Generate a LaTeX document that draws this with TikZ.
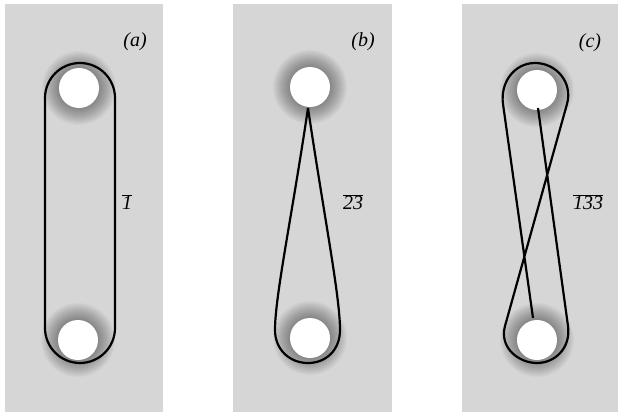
\documentclass[tikz,border=0pt]{standalone}
\usepackage{fontspec}
\setmainfont{Liberation Serif}
\usetikzlibrary{positioning}
\definecolor{panelGris}{gray}{0.84}

\begin{document}
\begin{tikzpicture}[x=1pt, y=1pt,
        panel/.style={fill=panelGris, draw=none},
        hole/.style={fill=white, draw=none},
        loopline/.style={line width=2.2pt, line join=round, draw=black},
        tag/.style={font=\fontsize{20}{22}\selectfont\itshape, inner sep=0pt},
        barlbl/.style={font=\fontsize{20}{22}\selectfont\itshape, inner sep=0pt}
    ]
        \useasboundingbox (0,0) rectangle (618,416);

        % --- PANELES ---
        \fill[panel] (5,4) rectangle (163,412);
        \fill[panel] (233,4) rectangle (392,412);
        \fill[panel] (462,4) rectangle (618,412);

        % Agujeros
        \coordinate (aTop) at (79,328);
        \coordinate (aBot) at (78,76);
        \coordinate (bTop) at (310,329);
        \coordinate (bBot) at (310,78);
        \coordinate (cTop) at (537,326);
        \coordinate (cBot) at (537,76);
        \foreach \c in {aTop,aBot,bTop,bBot,cTop,cBot}{
            \foreach \r in {37,36,...,21} \fill[black, opacity=0.025] (\c) circle (\r);
            \fill[hole] (\c) circle (20);
        }

        % Etiquetas
        \node[tag] (tagA) at (135,374) {(a)};
        \node[tag] (tagB) at (363,374) {(b)};
        \node[tag] (tagC) at (590,373) {(c)};

        % --- LAZOS ---
        % (a)
        \draw[loopline, rounded corners=35pt] (45,53) rectangle (115,353);
        \node[barlbl] (lblA) at (127,214) {$\overline{\mbox{\itshape 1}}$};

        % (b)
        \draw[loopline] (308,308) .. controls (292,200) and (275,120) .. (275,86)
            .. controls (275,66) and (290,53) .. (308,53)
            .. controls (326,53) and (340,66) .. (340,86)
            .. controls (340,120) and (324,200) .. (308,308);
        \node[barlbl] (lblB) at (353,214) {$\overline{\mbox{\itshape 23}}$};

        % (c)
        \draw[loopline] (538,308) -- (568,90)
            .. controls (571,68) and (555,53) .. (537,53)
            .. controls (519,53) and (499,68) .. (505,90)
            -- (567,312)
            .. controls (573,334) and (556,353) .. (535,353)
            .. controls (514,353) and (500,333) .. (503,312)
            -- (533,98);
        \node[barlbl] (lblC) at (588,214) {$\overline{\mbox{\itshape 133}}$};
    \end{tikzpicture}
\end{document}
